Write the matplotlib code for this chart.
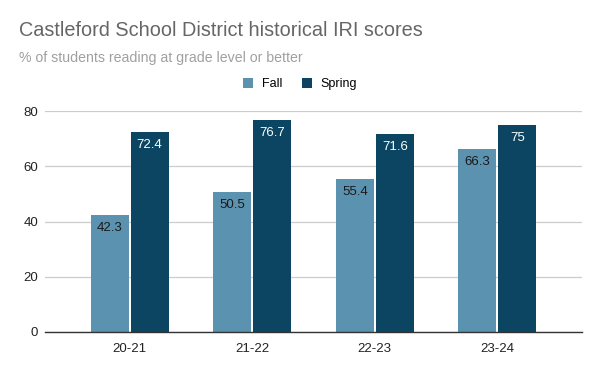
import numpy as np
import matplotlib.pyplot as plt

plt.rcParams['font.family'] = ['Liberation Sans', 'DejaVu Sans']

# Data
years = ['20-21', '21-22', '22-23', '23-24']
fall = [42.3, 50.5, 55.4, 66.3]
spring = [72.4, 76.7, 71.6, 75]
fall_labels = ['42.3', '50.5', '55.4', '66.3']
spring_labels = ['72.4', '76.7', '71.6', '75']

fall_color = '#5b92af'
spring_color = '#0b4561'

fig = plt.figure(figsize=(6, 3.71), dpi=100)
ax = fig.add_axes([45/600, 1 - 332/371, 537/600, 221/371])

x = np.arange(len(years))
w = 0.31
off = 0.163
b1 = ax.bar(x - off, fall, w, color=fall_color, zorder=3)
b2 = ax.bar(x + off, spring, w, color=spring_color, zorder=3)

for rect, lab in zip(b1, fall_labels):
    ax.annotate(lab, (rect.get_x() + rect.get_width() / 2, rect.get_height()),
                xytext=(0, -13), textcoords='offset pixels', ha='center', va='center',
                fontsize=9.5, color='#1a1a1a', zorder=4)
for rect, lab in zip(b2, spring_labels):
    ax.annotate(lab, (rect.get_x() + rect.get_width() / 2, rect.get_height()),
                xytext=(0, -13), textcoords='offset pixels', ha='center', va='center',
                fontsize=9.5, color='white', zorder=4)

ax.set_xlim(-0.69, 3.69)
ax.set_ylim(0, 80)
ax.set_yticks([0, 20, 40, 60, 80])
ax.set_xticks(x)
ax.set_xticklabels(years)
ax.tick_params(length=0, labelsize=9.5, colors='#222222')
ax.tick_params(axis='y', pad=5)
ax.tick_params(axis='x', pad=8)
ax.grid(axis='y', color='#cccccc', linewidth=0.9, zorder=0)
for s in ['top', 'right', 'left']:
    ax.spines[s].set_visible(False)
ax.spines['bottom'].set_color('#333333')
ax.spines['bottom'].set_linewidth(1.0)
ax.spines['bottom'].set_zorder(5)

fig.text(19/600, 1 - 30/371, 'Castleford School District historical IRI scores',
         fontsize=14.3, color='#666666', va='center', ha='left')
fig.text(19/600, 1 - 58/371, '% of students reading at grade level or better',
         fontsize=10.2, color='#a0a0a0', va='center', ha='left')

ax.legend([b1, b2], ['Fall', 'Spring'], loc='center', bbox_to_anchor=(300/600, 1 - 84/371),
          bbox_transform=fig.transFigure, ncol=2, frameon=False, fontsize=9,
          handlelength=0.8, handleheight=0.8, handletextpad=0.7, columnspacing=1.6)

fig.savefig('out.png', dpi=100)
